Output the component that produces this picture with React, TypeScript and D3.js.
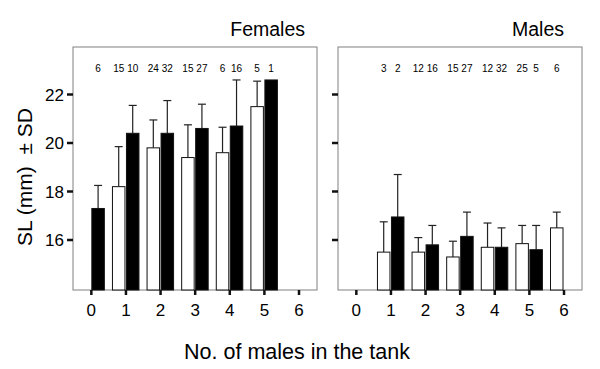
import React from "react";
import * as d3 from "d3";

const categories = [0, 1, 2, 3, 4, 5, 6];
const yTicks = [16, 18, 20, 22];

// females panel
const femWhiteMean = [null, 18.2, 19.8, 19.4, 19.6, 21.5, null];
const femWhiteSd = [null, 1.65, 1.15, 1.35, 1.05, 1.05, null];
const femWhiteN = [null, 15, 24, 15, 6, 5, null];
const femBlackMean = [17.3, 20.4, 20.4, 20.6, 20.7, 22.6, null];
const femBlackSd = [0.95, 1.15, 1.35, 1.0, 1.9, null, null];
const femBlackN = [6, 10, 32, 27, 16, 1, null];

// males panel
const maleWhiteMean = [null, 15.5, 15.5, 15.3, 15.7, 15.85, 16.5];
const maleWhiteSd = [null, 1.25, 0.6, 0.65, 1.0, 0.75, 0.65];
const maleWhiteN = [null, 3, 12, 15, 12, 25, 6];
const maleBlackMean = [null, 16.95, 15.8, 16.15, 15.7, 15.6, null];
const maleBlackSd = [null, 1.75, 0.8, 1.0, 0.8, 1.0, null];
const maleBlackN = [null, 2, 16, 27, 32, 5, null];

const FONT = "Liberation Sans, Arial, sans-serif";
const TOP = 47;
const BOTTOM = 290;
const BAR_W = 12.5;

type Series = {
  mean: (number | null)[];
  sd: (number | null)[];
  n: (number | null)[];
  fill: string;
  side: "left" | "right";
};

function Panel({
  x0,
  x1,
  title,
  titleX,
  series,
  showLabels,
}: {
  x0: number;
  x1: number;
  title: string;
  titleX: number;
  series: Series[];
  showLabels: boolean;
}) {
  const x = d3.scaleLinear().domain([-0.53, 6.52]).range([x0, x1]);
  const y = d3.scaleLinear().domain([16, 22]).range([240, 94.5]);

  return (
    <g>
      <text x={titleX} y={36} textAnchor="end" fontSize={19.5} fontFamily={FONT}>
        {title}
      </text>
      <rect x={x0} y={TOP} width={x1 - x0} height={BOTTOM - TOP} fill="white" stroke="#808080" strokeWidth={1} />
      {/* y ticks */}
      {yTicks.map((t) => (
        <g key={t}>
          <line x1={x0 - 6} x2={x0} y1={y(t)} y2={y(t)} stroke="#111" strokeWidth={2.5} />
          {showLabels && (
            <text x={x0 - 9} y={y(t) + 6} textAnchor="end" fontSize={17} fontFamily={FONT}>
              {t}
            </text>
          )}
        </g>
      ))}
      {/* x ticks */}
      {categories.map((c) => (
        <g key={c}>
          <line x1={x(c)} x2={x(c)} y1={BOTTOM} y2={BOTTOM + 5} stroke="#111" strokeWidth={2.5} />
          <text x={x(c)} y={316} textAnchor="middle" fontSize={17} fontFamily={FONT}>
            {c}
          </text>
        </g>
      ))}
      {series.map((s, si) =>
        categories.map((c, i) => {
          const m = s.mean[i];
          if (m == null) return null;
          const bx = s.side === "left" ? x(c) - BAR_W - 1 : x(c) + 0.5;
          const cx = bx + BAR_W / 2;
          const sd = s.sd[i];
          const n = s.n[i];
          return (
            <g key={`${si}-${c}`}>
              {sd != null && (
                <g stroke="#222" strokeWidth={1.2}>
                  <line x1={cx} x2={cx} y1={y(m)} y2={y(m + sd)} />
                  <line x1={cx - 4} x2={cx + 4} y1={y(m + sd)} y2={y(m + sd)} />
                </g>
              )}
              <rect
                x={bx}
                y={y(m)}
                width={BAR_W}
                height={BOTTOM - y(m)}
                fill={s.fill}
                stroke="#111"
                strokeWidth={1}
              />
              {n != null && (
                <text x={cx} y={72} textAnchor="middle" fontSize={10} fontFamily={FONT}>
                  {n}
                </text>
              )}
            </g>
          );
        })
      )}
    </g>
  );
}

export default function App() {
  return (
    <svg
      width={600}
      height={369}
      style={{ position: "fixed", left: 0, top: 0, background: "white" }}
    >
      <rect width={600} height={369} fill="white" />
      <Panel
        x0={73}
        x1={317}
        title="Females"
        titleX={305}
        showLabels
        series={[
          { mean: femWhiteMean, sd: femWhiteSd, n: femWhiteN, fill: "white", side: "left" },
          { mean: femBlackMean, sd: femBlackSd, n: femBlackN, fill: "black", side: "right" },
        ]}
      />
      <Panel
        x0={338}
        x1={582}
        title="Males"
        titleX={564}
        showLabels={false}
        series={[
          { mean: maleWhiteMean, sd: maleWhiteSd, n: maleWhiteN, fill: "white", side: "left" },
          { mean: maleBlackMean, sd: maleBlackSd, n: maleBlackN, fill: "black", side: "right" },
        ]}
      />
      <text
        transform="translate(32,177) rotate(-90)"
        textAnchor="middle"
        fontSize={21}
        fontFamily={FONT}
        style={{ whiteSpace: "pre" }}
      >
        {"SL (mm)  ± SD"}
      </text>
      <text x={297} y={359} textAnchor="middle" fontSize={21.5} fontFamily={FONT}>
        No. of males in the tank
      </text>
    </svg>
  );
}
